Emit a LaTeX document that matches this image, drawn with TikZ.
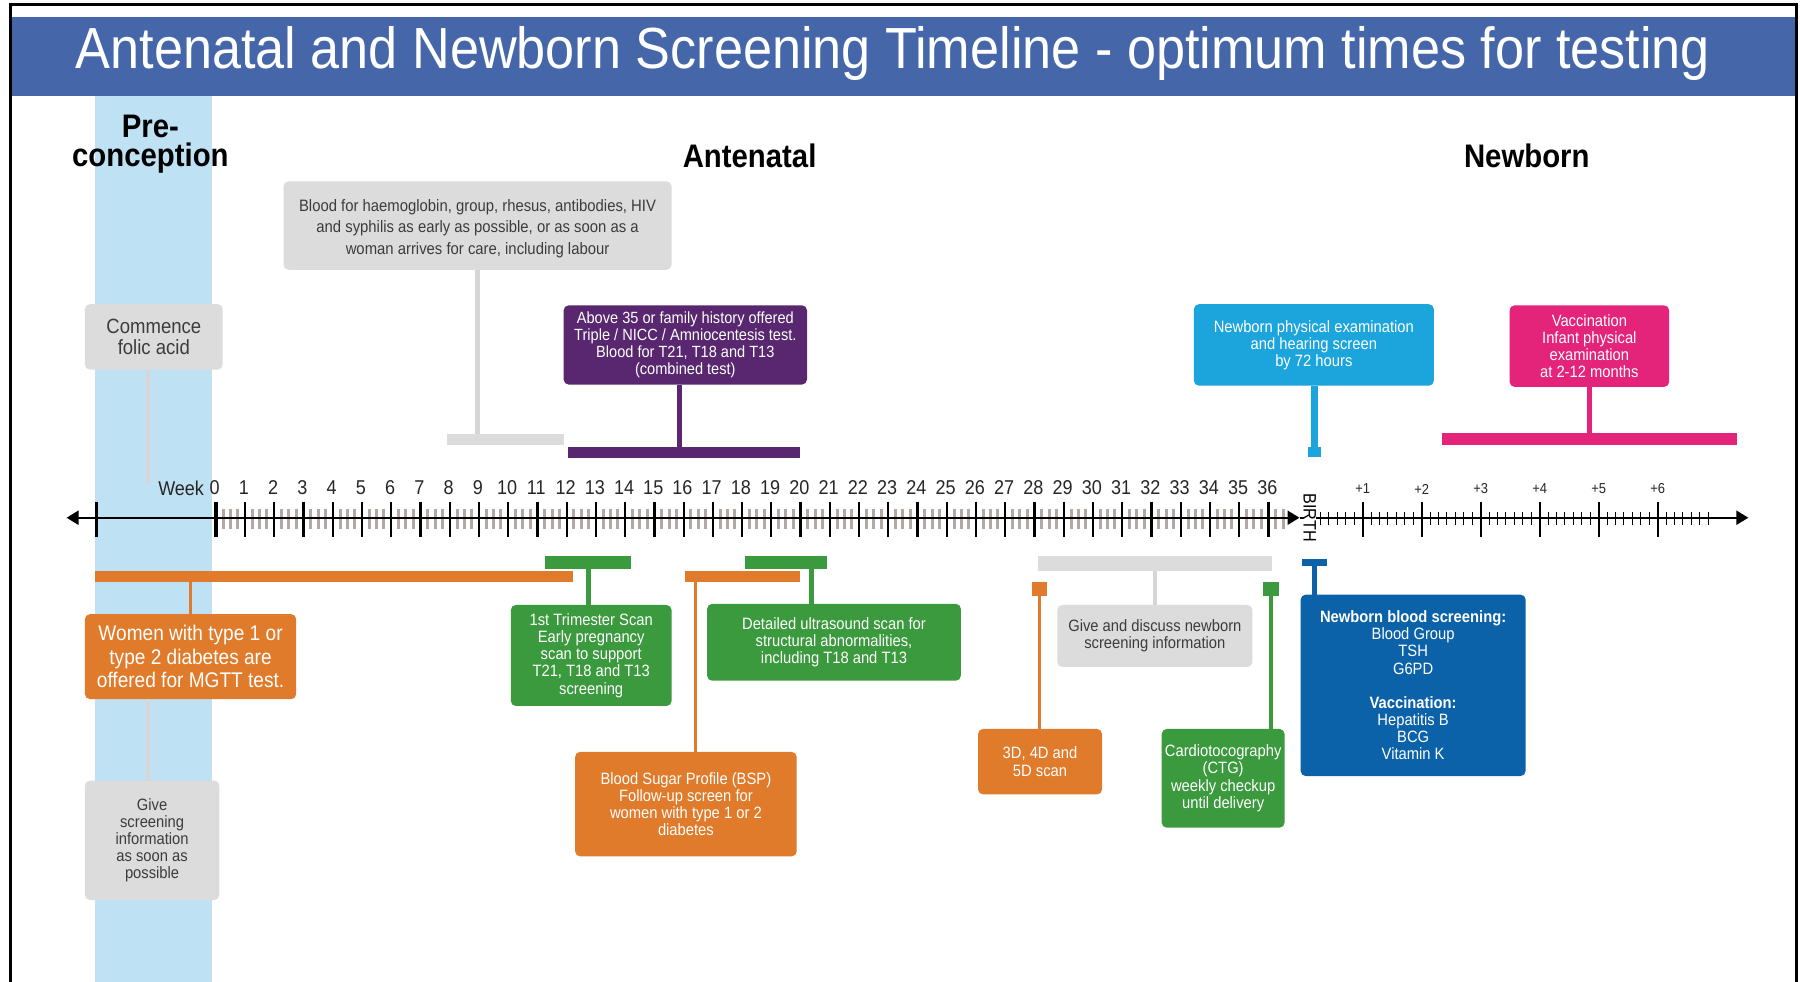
\documentclass[tikz,border=0pt]{standalone}
\usepackage{fontspec}
\setmainfont{Liberation Sans}[FakeStretch=0.9]
\usetikzlibrary{arrows.meta}
\definecolor{bannerblue}{HTML}{4567A9}
\definecolor{colblue}{HTML}{BEE1F3}
\definecolor{lgray}{HTML}{DCDCDC}
\definecolor{stemgray}{HTML}{D6D6D6}
\definecolor{purp}{HTML}{58276F}
\definecolor{cyanb}{HTML}{1CA5DD}
\definecolor{pinkb}{HTML}{E4237B}
\definecolor{orng}{HTML}{E07B2B}
\definecolor{grn}{HTML}{3B9A3D}
\definecolor{dblue}{HTML}{0C62A8}
\definecolor{tickgray}{HTML}{B2A8A6}
\definecolor{txtgray}{HTML}{3C3C3C}
\newcommand\myfs[2]{\fontsize{#1}{#2}\selectfont}
\begin{document}
\begin{tikzpicture}[x=0.574pt,y=-0.574pt,
  box/.style={rectangle, rounded corners=2.5pt, inner sep=0pt, outer sep=0pt, align=center},
  wh/.style 2 args={minimum width={#1*0.574pt}, minimum height={#2*0.574pt}},
  bar/.style={rectangle, inner sep=0pt, outer sep=0pt},
  smalltxt/.style={font=\myfs{8.2}{8.6}},
  graybox/.style={box, fill=lgray, text=txtgray},
  colbox/.style={box, text=white},
  heading/.style={font=\myfs{16.3}{16.3}\bfseries, align=center, inner sep=0pt},
  wlab/.style={font=\myfs{10}{10}, inner sep=0pt, text=black!85},
  nlab/.style={font=\myfs{7.2}{7.2}, inner sep=0pt, text=black!85},
  axisline/.style={line width=1.1pt, black},
  tip/.style={-{Triangle[length=6pt,width=7pt]}},
]
\useasboundingbox (0,0) rectangle (1568,855);
\fill[white] (0,0) rectangle (1568,855);
% light blue pre-conception column
\fill[colblue] (83,84) rectangle (185,855);
% banner
\fill[bannerblue] (9,15) rectangle (1565,84);
\node[font=\myfs{29}{30}, text=white, inner sep=0pt] (title) at (778,47) {Antenatal and Newborn Screening Timeline - optimum times for testing};
% frame
\draw[line width=1.2pt, black] (9,855) -- (9,4) -- (1565,4) -- (1565,855);

% headings
\node[heading] (pre) at (131,110) {Pre-};
\node[heading] (conc) at (131,138) {conception};
\node[heading] (ante) at (653,136) {Antenatal};
\node[heading] (newb) at (1330,136) {Newborn};

% ---------- bars ----------
\node[bar, fill=lgray, wh={102}{10}] (bloodbar) at (440,383) {};
\node[bar, fill=purp, wh={202}{10}] (purplebar) at (596,394) {};
\node[bar, fill=cyanb, wh={12}{9}] (cyancap) at (1145,393.5) {};
\node[bar, fill=pinkb, wh={257}{11}] (pinkbar) at (1384.5,382.5) {};
\node[bar, fill=orng, wh={416}{10}] (obar1) at (291,502) {};
\node[bar, fill=grn, wh={75}{12}] (gbar1) at (512.5,490) {};
\node[bar, fill=orng, wh={100}{10}] (obar2) at (647,502) {};
\node[bar, fill=grn, wh={71}{12}] (gbar2) at (684.5,490) {};
\node[bar, fill=lgray, wh={204}{13}] (gybar) at (1006,490.5) {};
\node[bar, fill=orng, wh={13}{12}] (osq) at (905.5,513) {};
\node[bar, fill=grn, wh={14}{12}] (gsq) at (1107,513) {};
\node[bar, fill=dblue, wh={22}{6}] (bcap) at (1145,490) {};

% ---------- boxes ----------
\node[graybox, wh={338}{77}, font=\myfs{8.26}{10.6}] (blood) at (416,196.5)
  {\rule{0pt}{9pt}Blood for haemoglobin, group, rhesus, antibodies, HIV\\and syphilis as early as possible, or as soon as a\\woman arrives for care, including labour};
\node[graybox, wh={120}{57}, font=\myfs{10.3}{10.2}] (folic) at (134,293.5)
  {Commence\\folic acid};
\node[colbox, fill=purp, wh={212}{69}, font=\myfs{8.1}{8.6}] (purple) at (597,300.5)
  {Above 35 or family history offered\\Triple / NICC / Amniocentesis test.\\Blood for T21, T18 and T13\\(combined test)};
\node[colbox, fill=cyanb, wh={209}{71}, font=\myfs{8.2}{8.6}] (cyan) at (1144.5,300.5)
  {Newborn physical examination\\and hearing screen\\by 72 hours};
\node[colbox, fill=pinkb, wh={139}{71}, font=\myfs{8.2}{8.6}] (pink) at (1384.5,301.5)
  {Vaccination\\Infant physical\\examination\\at 2-12 months};
\node[colbox, fill=orng, wh={184}{74}, font=\myfs{10.6}{11.8}] (mgtt) at (166,572)
  {Women with type 1 or\\type 2 diabetes are\\offered for MGTT test.};
\node[graybox, wh={117}{104}, smalltxt] (giveinfo) at (132.5,732)
  {Give\\screening\\information\\as soon as\\possible};
\node[colbox, fill=grn, wh={140}{88}, smalltxt] (trim) at (515,571)
  {1st Trimester Scan\\Early pregnancy\\scan to support\\T21, T18 and T13\\screening};
\node[colbox, fill=orng, wh={193}{91}, smalltxt] (bsp) at (597.5,700.5)
  {Blood Sugar Profile (BSP)\\Follow-up screen for\\women with type 1 or 2\\diabetes};
\node[colbox, fill=grn, wh={221}{67}, smalltxt] (detail) at (726.5,559.5)
  {Detailed ultrasound scan for\\structural abnormalities,\\including T18 and T13};
\node[graybox, wh={170}{54}, smalltxt] (discuss) at (1006,554)
  {Give and discuss newborn\\screening information};
\node[colbox, fill=orng, wh={108}{57}, smalltxt] (threed) at (906,663.5)
  {3D, 4D and\\5D scan};
\node[colbox, fill=grn, wh={107}{86}, smalltxt] (ctg) at (1065.5,678)
  {Cardiotocography\\(CTG)\\weekly checkup\\until delivery};
\node[colbox, fill=dblue, wh={196}{158}, smalltxt] (nbs) at (1231,597)
  {\textbf{Newborn blood screening:}\\Blood Group\\TSH\\G6PD\\[8.6pt]\textbf{Vaccination:}\\Hepatitis B\\BCG\\Vitamin K};

% ---------- stems ----------
\coordinate (xfol) at (129,0);
\coordinate (folend) at (129,421);
\coordinate (xpur) at (592,0);
\coordinate (xgi) at (129,0);
\coordinate (xbsp) at (606,0);
\coordinate (xdet) at (707,0);
\draw[stemgray, line width=2.3pt] (blood.south) -- (blood.south |- bloodbar.north);
\draw[stemgray, line width=1.7pt] (xfol |- folic.south) -- (folend);
\draw[purp, line width=2.3pt] (xpur |- purple.south) -- (xpur |- purplebar.north);
\draw[cyanb, line width=3.4pt] (cyancap.north |- cyan.south) -- (cyancap.north);
\draw[pinkb, line width=2.3pt] (pink.south) -- (pink.south |- pinkbar.north);
\draw[orng, line width=1.7pt] (mgtt.north) -- (mgtt.north |- obar1.south);
\draw[stemgray, line width=1.7pt] (xgi |- mgtt.south) -- (xgi |- giveinfo.north);
\draw[grn, line width=2.3pt] (gbar1.south) -- (gbar1.south |- trim.north);
\draw[orng, line width=1.7pt] (xbsp |- obar2.south) -- (xbsp |- bsp.north);
\draw[grn, line width=2.3pt] (xdet |- gbar2.south) -- (xdet |- detail.north);
\draw[stemgray, line width=2.3pt] (gybar.south) -- (gybar.south |- discuss.north);
\draw[orng, line width=1.7pt] (osq.south) -- (osq.south |- threed.north);
\draw[grn, line width=1.7pt] (gsq.south) -- (gsq.south |- ctg.north);
\draw[dblue, line width=2.3pt] (bcap.south) -- (bcap.south |- nbs.north);

% ---------- axis ----------
\coordinate (axL) at (58,451);
\coordinate (axB) at (1132,451);
\coordinate (axR) at (1523,451);
% gray minor week ticks
\foreach \k in {0,...,35} {
  \foreach \j in {1,2,3} {
    \pgfmathsetmacro\xx{188+25.47*(\k+\j/4)}
    \draw[tickgray, line width=1.5pt] (\xx,443) -- (\xx,461);
  }
}
\foreach \j in {1,2} {
  \pgfmathsetmacro\xx{188+25.47*(36+\j/4)}
  \draw[tickgray, line width=1.5pt] (\xx,443) -- (\xx,461);
}
\draw[axisline, {Triangle[length=6pt,width=7pt]}-{Triangle[length=6pt,width=7pt]}] (axL) -- (axB);
\draw[axisline, tip] (axB) -- (axR);
% left end tick
\draw[line width=1.1pt] (84,437) -- (84,468);
% week ticks and labels
\node[wlab, anchor=east] (weeklab) at (178,425) {Week};
\foreach \k in {0,...,36} {
  \pgfmathsetmacro\xx{188+25.47*\k}
  \draw[line width=1.1pt] (\xx,437) -- (\xx,468);
  \node[wlab] (w\k) at (\xx-1,425) {\k};
}
\draw[line width=1.7pt] (188,437) -- (188,468);
% newborn ticks
\foreach \n in {1,...,48} {
  \pgfmathsetmacro\xx{1135.6+51.4*\n/7}
  \draw[line width=0.5pt] (\xx,446) -- (\xx,457);
}
\foreach \m in {1,...,6} {
  \pgfmathsetmacro\xx{1135.6+51.4*\m}
  \draw[line width=1.1pt] (\xx,437) -- (\xx,468);
  \node[nlab] (n\m) at (\xx,426) {+\m};
}
\node[font=\myfs{9}{9}, rotate=-90, inner sep=0pt, fill=white, inner xsep=0.5pt] (birth) at (1141,451) {BIRTH};
\end{tikzpicture}
\end{document}
